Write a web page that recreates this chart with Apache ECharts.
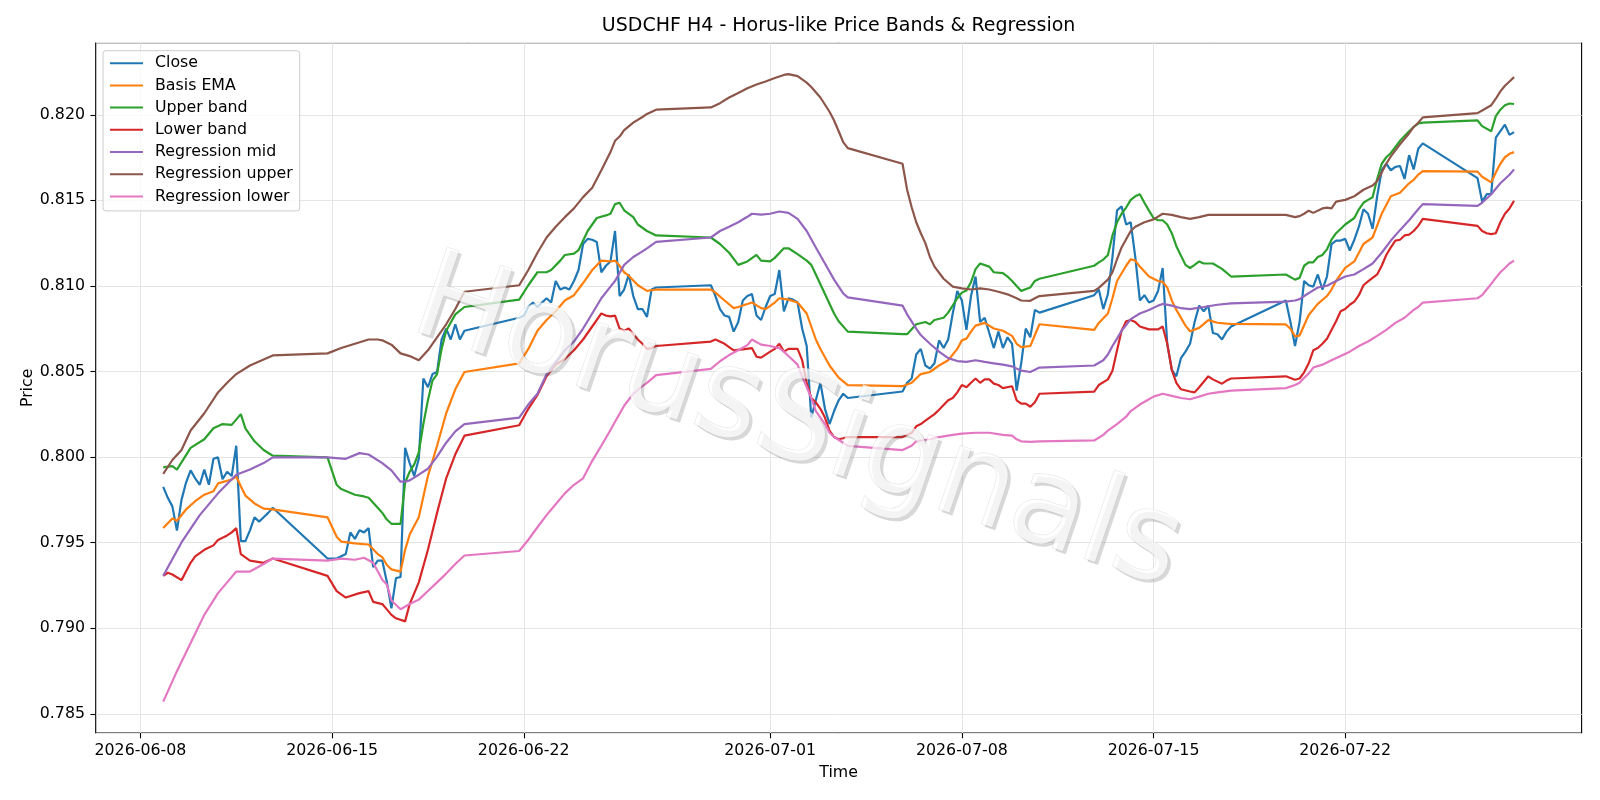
<!DOCTYPE html>
<html>
<head>
<meta charset="utf-8">
<script src="https://cdn.jsdelivr.net/npm/echarts@6/dist/echarts.min.js"></script>
<style>html,body{margin:0;padding:0;background:#fff}#c{width:1600px;height:800px}</style>
</head>
<body>
<div id="c"></div>
<script>
// Time is counted in hours from 2026-06-08 00:00 (UTC); bars are H4.
const chartTitle = 'USDCHF H4 - Horus-like Price Bands & Regression';
const xTickLabels = ['2026-06-08', '2026-06-15', '2026-06-22', '2026-07-01', '2026-07-08', '2026-07-15', '2026-07-22'];
const seriesNames = ['Close', 'Basis EMA', 'Upper band', 'Lower band', 'Regression mid', 'Regression upper', 'Regression lower'];

// Close, one value per H4 bar (weekend bars absent)
const closeVals = [
  0.79826,0.79762,0.79712,0.79570,0.79750,0.79851,0.79922,0.79876,0.79838,0.79927,0.79838,0.79990,0.79998,0.79871,0.79914,0.79889,0.80066,0.79509,0.79509,0.79572,0.79648,0.79623,0.79648,0.79674,0.79704,
  0.79407,0.79407,0.79407,0.79420,0.79433,0.79560,0.79522,0.79572,0.79560,0.79585,0.79357,0.79395,0.79395,0.79270,0.79116,0.79293,0.79299,0.80054,0.79965,0.79889,0.79990,0.80459,0.80408,0.80485,0.80497,0.80687,0.80751,0.80687,0.80776,0.80687,0.80738,
  0.80814,0.80827,0.80877,0.80903,0.80877,0.80903,0.80928,0.80903,0.81029,0.80979,0.80991,0.80979,0.81029,0.81093,0.81245,0.81275,0.81270,0.81257,0.81080,0.81118,0.81143,0.81321,0.80941,0.80979,0.81067,0.80941,0.80865,0.80865,0.80819,0.80979,0.80991,
  0.81004,0.80941,0.80865,0.80827,0.80819,0.80733,0.80789,0.80915,0.80941,0.80953,0.80827,0.80801,0.80877,0.80941,0.80953,0.81093,0.80852,0.80928,0.80920,0.80903,0.80751,0.80649,0.80231,0.80332,0.80434,0.80282,0.80193,0.80269,0.80332,0.80370,0.80345,
  0.80383,0.80434,0.80459,0.80599,0.80632,0.80535,0.80517,0.80548,0.80682,0.80637,0.80687,0.80839,0.80971,0.80915,0.80743,0.80941,0.81055,0.80789,0.80814,0.80725,0.80637,0.80733,0.80637,0.80700,0.80662,0.80388,0.80548,0.80751,0.80700,0.80860,0.80844,
  0.80946,0.80979,0.80865,0.80953,0.81169,0.81442,0.81465,0.81359,0.81372,0.81169,0.80915,0.80946,0.80903,0.80915,0.80971,0.81105,0.80662,0.80510,0.80472,0.80578,0.80616,0.80662,0.80789,0.80885,0.80852,0.80885,0.80725,0.80718,0.80687,0.80733,0.80763,
  0.80915,0.80789,0.80649,0.80789,0.81029,0.81004,0.80996,0.81067,0.80979,0.81055,0.81245,0.81265,0.81265,0.81275,0.81207,0.81270,0.81346,0.81448,0.81422,0.81334,0.81524,0.81676,0.81714,0.81676,0.81696,0.81701,0.81625,0.81764,0.81681,0.81802,0.81833,
  0.81630,0.81493,0.81536,0.81536,0.81866,0.81904,0.81942,0.81883,0.81899
];

// [hour, value]
const basisEma = [[20,0.79585],[28,0.79641],[32,0.79628],[40,0.79694],[48,0.79742],[56,0.7978],[64,0.798],[68,0.79846],[80,0.79869],[84,0.79886],[88,0.7983],[92,0.79775],[100,0.79729],[108,0.79699],[116,0.79694],[164,0.79648],[172,0.79534],[176,0.79506],[188,0.79496],[196,0.79491],[200,0.79489],[208,0.79433],[212,0.79415],[216,0.79369],[220,0.79344],[228,0.79331],[232,0.79458],[236,0.79547],[244,0.79648],[252,0.79889],[260,0.80066],[268,0.80256],[276,0.80396],[284,0.80497],[332,0.80548],[340,0.80632],[348,0.80738],[356,0.80801],[364,0.80852],[372,0.80915],[380,0.80946],[388,0.81017],[396,0.81093],[404,0.81148],[412,0.81143],[416,0.81148],[420,0.81118],[424,0.8108],[428,0.8106],[436,0.81004],[444,0.80971],[452,0.80979],[500,0.80979],[504,0.80961],[512,0.80915],[520,0.8087],[524,0.80877],[536,0.80903],[544,0.8087],[548,0.80865],[556,0.80903],[560,0.80928],[568,0.8092],[576,0.80903],[584,0.80839],[588,0.80763],[592,0.80687],[596,0.80632],[604,0.80535],[612,0.80464],[620,0.80421],[668,0.80414],[676,0.80434],[684,0.80485],[692,0.80497],[700,0.80535],[708,0.80566],[716,0.80632],[720,0.80682],[724,0.80692],[728,0.80733],[732,0.80768],[740,0.80784],[748,0.80751],[756,0.80738],[764,0.80708],[768,0.80662],[772,0.80642],[780,0.80649],[788,0.80776],[836,0.80743],[840,0.80784],[848,0.80839],[852,0.80928],[856,0.81029],[864,0.81118],[868,0.81156],[872,0.81148],[876,0.81113],[884,0.81055],[892,0.81029],[896,0.81024],[900,0.80991],[904,0.80915],[908,0.8086],[916,0.80768],[920,0.80735],[928,0.80755],[936,0.80800],[944,0.80785],[952,0.8078],[956,0.80778],[1004,0.80775],[1008,0.8075],[1012,0.80705],[1016,0.8071],[1020,0.80770],[1024,0.8083],[1032,0.80895],[1040,0.80941],[1044,0.80979],[1048,0.81029],[1056,0.81105],[1064,0.81143],[1072,0.81245],[1080,0.81283],[1088,0.81422],[1096,0.81524],[1104,0.81544],[1112,0.816],[1116,0.8162],[1120,0.8165],[1124,0.81671],[1172,0.81668],[1176,0.81638],[1184,0.81605],[1188,0.81663],[1192,0.81714],[1196,0.81752],[1200,0.81772],[1204,0.81782]];

const upperBand = [[20,0.7994],[28,0.79947],[32,0.79927],[44,0.80054],[56,0.80104],[64,0.80168],[72,0.80193],[80,0.80188],[88,0.80251],[92,0.80168],[100,0.80092],[108,0.80041],[116,0.80008],[164,0.79998],[172,0.79838],[176,0.79813],[188,0.7978],[196,0.7977],[200,0.79762],[208,0.79704],[212,0.79674],[216,0.79635],[220,0.7961],[228,0.7961],[232,0.79851],[236,0.79914],[240,0.79957],[244,0.80028],[248,0.80193],[252,0.80332],[256,0.80447],[260,0.80485],[264,0.80632],[268,0.80738],[276,0.80834],[284,0.80877],[332,0.8092],[340,0.81004],[348,0.8108],[356,0.8108],[360,0.81093],[368,0.81148],[372,0.81181],[380,0.81189],[384,0.81209],[392,0.81321],[400,0.81397],[408,0.81412],[412,0.81422],[416,0.81478],[420,0.81486],[424,0.81442],[432,0.81402],[436,0.81359],[444,0.81321],[452,0.81295],[500,0.81283],[508,0.81245],[516,0.81194],[524,0.81123],[532,0.81143],[540,0.81181],[544,0.81148],[552,0.81143],[556,0.81164],[564,0.8122],[568,0.8122],[576,0.81186],[584,0.81148],[588,0.81123],[592,0.81067],[600,0.80953],[608,0.80839],[612,0.80794],[620,0.80733],[668,0.80718],[672,0.80718],[680,0.80776],[688,0.80789],[692,0.80776],[696,0.80801],[704,0.80814],[708,0.80844],[716,0.80928],[720,0.80961],[724,0.80974],[728,0.81022],[732,0.81098],[736,0.81131],[744,0.81113],[748,0.8108],[756,0.81075],[760,0.81055],[764,0.81029],[772,0.80971],[780,0.80991],[784,0.81029],[788,0.81042],[836,0.81118],[840,0.81138],[844,0.81154],[848,0.81181],[852,0.81295],[856,0.81372],[860,0.81422],[864,0.81458],[868,0.81503],[872,0.81524],[876,0.81536],[880,0.81486],[884,0.8144],[888,0.81397],[892,0.81384],[896,0.81384],[900,0.81359],[904,0.81308],[908,0.81232],[916,0.81123],[920,0.81105],[924,0.81123],[928,0.81143],[932,0.81131],[940,0.81131],[948,0.811],[956,0.81055],[1004,0.81067],[1012,0.81037],[1016,0.81047],[1020,0.81118],[1024,0.81138],[1028,0.81138],[1032,0.81169],[1036,0.81181],[1040,0.81214],[1044,0.8127],[1048,0.81308],[1056,0.81359],[1064,0.81397],[1068,0.81448],[1072,0.81486],[1076,0.81503],[1080,0.81518],[1084,0.81625],[1088,0.81714],[1092,0.81752],[1096,0.81777],[1104,0.81848],[1112,0.81904],[1116,0.81929],[1120,0.81949],[1124,0.81954],[1172,0.81967],[1176,0.81934],[1184,0.81904],[1188,0.81992],[1192,0.8203],[1196,0.82056],[1200,0.82066],[1204,0.82063]];

const lowerBand = [[20,0.79306],[24,0.79324],[28,0.79314],[36,0.79281],[44,0.79382],[48,0.7942],[56,0.79458],[60,0.79471],[64,0.79484],[68,0.79516],[76,0.79542],[80,0.7956],[84,0.79585],[88,0.79433],[96,0.79395],[108,0.79382],[116,0.79407],[164,0.79306],[172,0.79217],[180,0.79179],[192,0.79205],[200,0.79217],[204,0.79154],[212,0.79141],[216,0.7911],[220,0.79078],[224,0.79058],[232,0.7904],[236,0.79141],[244,0.79268],[252,0.79458],[260,0.79674],[268,0.79876],[276,0.80016],[284,0.80125],[332,0.80186],[340,0.80282],[348,0.80363],[356,0.80472],[364,0.8054],[372,0.80573],[380,0.80624],[388,0.80687],[396,0.80763],[404,0.80839],[408,0.80827],[412,0.80822],[416,0.80827],[420,0.80751],[424,0.80738],[428,0.80751],[432,0.80718],[436,0.80687],[440,0.80662],[444,0.80632],[448,0.80637],[452,0.80649],[500,0.80675],[504,0.80687],[512,0.80662],[520,0.80624],[528,0.80629],[536,0.80637],[540,0.80586],[544,0.80581],[552,0.80616],[556,0.80632],[560,0.80662],[564,0.80616],[568,0.80632],[576,0.80632],[580,0.80566],[584,0.80434],[588,0.80345],[592,0.8032],[596,0.80282],[600,0.80231],[604,0.80155],[608,0.80117],[612,0.80104],[616,0.8011],[620,0.80117],[668,0.80117],[676,0.80142],[680,0.8018],[684,0.80193],[688,0.80213],[696,0.80251],[700,0.80277],[708,0.80332],[712,0.80345],[716,0.80378],[720,0.80421],[724,0.80408],[728,0.80434],[732,0.80459],[736,0.80434],[740,0.80454],[744,0.80454],[748,0.80429],[752,0.80421],[756,0.80403],[764,0.80414],[768,0.80332],[772,0.80312],[776,0.80312],[780,0.80294],[784,0.8032],[788,0.8037],[836,0.80383],[840,0.80421],[848,0.80454],[852,0.80505],[856,0.80624],[860,0.80738],[864,0.80794],[868,0.80801],[872,0.80789],[876,0.80763],[884,0.80746],[892,0.80746],[896,0.80763],[900,0.80662],[904,0.8051],[908,0.80434],[912,0.80396],[920,0.80383],[924,0.80378],[928,0.80408],[936,0.80472],[940,0.80454],[948,0.80429],[952,0.80447],[956,0.80459],[1004,0.80472],[1012,0.80452],[1016,0.80459],[1020,0.80495],[1024,0.80548],[1028,0.80624],[1032,0.80637],[1036,0.80662],[1040,0.80692],[1044,0.80743],[1048,0.80794],[1052,0.80852],[1056,0.80865],[1060,0.8089],[1064,0.80908],[1068,0.80946],[1072,0.81004],[1076,0.81027],[1080,0.81047],[1084,0.81067],[1088,0.81118],[1092,0.81181],[1096,0.81225],[1100,0.81265],[1104,0.8127],[1108,0.81295],[1112,0.813],[1116,0.81321],[1120,0.81351],[1124,0.81392],[1172,0.81351],[1176,0.81321],[1180,0.81308],[1184,0.81303],[1188,0.81308],[1192,0.81372],[1196,0.81422],[1200,0.81453],[1204,0.81498]];

const regMid = [[20,0.79306],[36,0.79501],[52,0.79661],[68,0.79788],[84,0.79897],[96,0.79927],[108,0.79965],[116,0.79998],[164,0.79998],[180,0.7999],[192,0.80023],[200,0.80015],[212,0.79965],[220,0.79922],[228,0.79856],[232,0.79856],[236,0.79864],[244,0.79897],[252,0.79932],[260,0.80003],[268,0.80084],[276,0.8015],[284,0.80193],[332,0.80231],[340,0.80307],[348,0.8037],[356,0.80484],[364,0.80553],[372,0.80624],[380,0.80675],[388,0.80751],[396,0.80839],[404,0.80928],[412,0.80996],[416,0.81029],[424,0.81123],[432,0.81169],[440,0.81202],[444,0.8122],[452,0.81257],[500,0.81283],[508,0.81321],[516,0.81346],[524,0.81372],[532,0.81404],[536,0.81422],[544,0.81417],[552,0.81422],[560,0.81435],[568,0.81427],[576,0.81392],[584,0.81321],[592,0.81225],[600,0.81131],[608,0.81037],[616,0.80956],[620,0.80933],[668,0.80885],[672,0.80834],[680,0.80751],[684,0.80713],[692,0.80662],[700,0.80616],[708,0.80578],[716,0.80561],[724,0.80556],[732,0.80566],[740,0.80556],[748,0.80548],[756,0.8054],[764,0.8053],[772,0.80505],[780,0.80497],[788,0.80523],[836,0.80535],[844,0.80566],[848,0.80599],[852,0.80649],[856,0.80692],[860,0.80738],[868,0.80806],[876,0.80839],[884,0.80859],[892,0.80885],[896,0.80895],[904,0.80885],[912,0.8087],[920,0.80865],[932,0.80877],[944,0.8089],[956,0.80898],[1004,0.80908],[1012,0.80915],[1016,0.80923],[1020,0.80941],[1024,0.80958],[1032,0.80991],[1040,0.81001],[1048,0.81029],[1056,0.81055],[1064,0.81067],[1072,0.81098],[1080,0.81131],[1088,0.81194],[1096,0.81265],[1104,0.81326],[1112,0.81384],[1120,0.81448],[1124,0.81478],[1172,0.81468],[1176,0.81486],[1184,0.81536],[1192,0.816],[1200,0.8165],[1204,0.81681]];

const regUpper = [[20,0.79902],[28,0.79983],[36,0.80041],[44,0.80155],[56,0.80256],[68,0.80378],[76,0.80434],[84,0.80485],[96,0.80535],[116,0.80594],[164,0.80606],[176,0.80637],[188,0.80662],[200,0.80687],[208,0.80687],[212,0.80682],[220,0.80657],[228,0.80606],[236,0.8059],[244,0.80566],[252,0.80624],[260,0.807],[268,0.80776],[276,0.80865],[284,0.80966],[332,0.81004],[340,0.81093],[348,0.81194],[356,0.81283],[364,0.81346],[372,0.81402],[380,0.81453],[388,0.81519],[396,0.81574],[404,0.81676],[412,0.81782],[416,0.81848],[420,0.81873],[424,0.81911],[432,0.81954],[440,0.81987],[444,0.82005],[452,0.8203],[500,0.82043],[508,0.82068],[516,0.82101],[524,0.82127],[532,0.82155],[540,0.82177],[548,0.82195],[556,0.82215],[564,0.82233],[568,0.82238],[576,0.82226],[584,0.82188],[588,0.82162],[596,0.82101],[604,0.82018],[608,0.81967],[612,0.81904],[616,0.8184],[620,0.81805],[668,0.81714],[672,0.81562],[676,0.8146],[680,0.81372],[684,0.81308],[688,0.8125],[692,0.81169],[696,0.81113],[704,0.81042],[712,0.80996],[720,0.80986],[728,0.80979],[736,0.80986],[744,0.80979],[752,0.80966],[760,0.80951],[768,0.80928],[772,0.80915],[780,0.80913],[784,0.80928],[788,0.80941],[836,0.80971],[840,0.80989],[848,0.81037],[852,0.8108],[856,0.81156],[860,0.81225],[868,0.81321],[872,0.81346],[880,0.81372],[888,0.81389],[896,0.81422],[904,0.81415],[912,0.81402],[920,0.81392],[928,0.81402],[936,0.81415],[956,0.81415],[1004,0.81415],[1012,0.81402],[1016,0.81408],[1020,0.81422],[1024,0.8144],[1028,0.81427],[1036,0.81453],[1040,0.81458],[1044,0.81453],[1048,0.81493],[1056,0.81503],[1064,0.81524],[1072,0.81562],[1080,0.81587],[1084,0.81612],[1088,0.81663],[1092,0.81714],[1096,0.81757],[1104,0.81828],[1112,0.81891],[1116,0.81929],[1120,0.81954],[1124,0.81985],[1172,0.8201],[1176,0.82025],[1184,0.82056],[1188,0.82094],[1192,0.82137],[1196,0.8217],[1200,0.82195],[1204,0.8222]];

const regLower = [[20,0.78571],[32,0.78749],[44,0.78913],[56,0.79078],[68,0.79205],[76,0.79268],[84,0.79331],[96,0.79331],[108,0.79375],[116,0.79407],[164,0.79395],[176,0.79407],[188,0.794],[196,0.79412],[204,0.79382],[212,0.79283],[216,0.79255],[220,0.79162],[228,0.79111],[236,0.79141],[244,0.79167],[252,0.79217],[260,0.79268],[268,0.79319],[276,0.79375],[284,0.79425],[332,0.79451],[340,0.79517],[348,0.7959],[356,0.79661],[364,0.79724],[372,0.79788],[380,0.79838],[388,0.79876],[396,0.79978],[404,0.80066],[412,0.80158],[416,0.80206],[424,0.803],[432,0.8037],[440,0.80414],[444,0.80434],[452,0.80479],[500,0.80515],[508,0.8056],[516,0.80596],[524,0.80624],[532,0.80654],[536,0.80687],[544,0.80657],[552,0.80649],[560,0.80637],[564,0.80616],[568,0.80591],[576,0.8054],[580,0.80472],[588,0.80345],[592,0.80269],[600,0.80193],[604,0.80142],[608,0.80117],[616,0.80084],[620,0.80066],[668,0.80041],[676,0.80066],[680,0.80092],[692,0.80104],[700,0.80117],[712,0.8013],[720,0.80137],[732,0.80142],[744,0.80142],[756,0.8013],[764,0.80125],[768,0.80104],[772,0.80092],[780,0.80089],[788,0.80092],[836,0.80097],[844,0.8013],[848,0.80155],[856,0.80193],[864,0.80236],[868,0.80269],[876,0.80307],[884,0.80338],[888,0.80353],[896,0.8037],[904,0.80358],[912,0.80345],[920,0.80338],[928,0.80353],[936,0.8037],[944,0.80378],[956,0.80388],[1004,0.80403],[1012,0.80421],[1016,0.80434],[1020,0.80463],[1024,0.80488],[1028,0.80523],[1036,0.8054],[1044,0.80566],[1052,0.80591],[1060,0.80616],[1068,0.80649],[1076,0.80675],[1084,0.80708],[1092,0.80743],[1100,0.80784],[1108,0.80814],[1116,0.8086],[1120,0.80877],[1124,0.80903],[1172,0.80928],[1176,0.80946],[1180,0.80979],[1184,0.81012],[1188,0.81047],[1192,0.8108],[1196,0.81105],[1200,0.81131],[1204,0.81148]];

const seriesColors = ['#1f77b4', '#ff7f0e', '#2ca02c', '#d62728', '#9467bd', '#8c564b', '#e377c2'];
const FONT = 'DejaVu Sans';
const BASE_MS = Date.parse('2026-06-08T00:00:00Z');

// H4 trading schedule: no bars from Saturday 00:00 to Sunday 16:00
function tradingHours(startH, endH) {
  const out = [];
  for (let h = startH; h <= endH; h += 4) {
    const dow = Math.floor(h / 24) % 7; // 0 = Monday
    const hod = h % 24;
    if (dow === 5 || (dow === 6 && hod < 20)) continue;
    out.push(h);
  }
  return out;
}
const barHours = tradingHours(20, 1204);
const closeData = closeVals.map((v, i) => [barHours[i], v]);

const allData = [closeData, basisEma, upperBand, lowerBand, regMid, regUpper, regLower];

// matplotlib-like 5% margins
let xLo = Infinity, xHi = -Infinity, yLo = Infinity, yHi = -Infinity;
allData.forEach(d => d.forEach(p => {
  if (p[0] < xLo) xLo = p[0]; if (p[0] > xHi) xHi = p[0];
  if (p[1] < yLo) yLo = p[1]; if (p[1] > yHi) yHi = p[1];
}));
const xPad = (xHi - xLo) * 0.05, yPad = (yHi - yLo) * 0.05;
const xMin = xLo - xPad, xMax = xHi + xPad, yMin = yLo - yPad, yMax = yHi + yPad;

const xTickHours = xTickLabels.map(s => (Date.parse(s + 'T00:00:00Z') - BASE_MS) / 3600000);
function xLabel(v) {
  const i = xTickHours.findIndex(h => Math.abs(h - v) < 1e-6);
  return i >= 0 ? xTickLabels[i] : '';
}

const chart = echarts.init(document.getElementById('c'), null, {renderer: 'canvas', width: 1600, height: 800, devicePixelRatio: 1});

const FS = 15.8;
const axisText = {color: '#000', fontSize: FS, fontFamily: FONT};
const gridLine = {show: true, lineStyle: {color: '#e5e5e5', width: 1}};

const option = {
  animation: false,
  backgroundColor: '#ffffff',
  textStyle: {fontFamily: FONT},
  color: seriesColors,
  grid: {left: 95.7, right: 18.4, top: 42.7, bottom: 67, show: true, borderColor: '#000', borderWidth: 1.1,
         backgroundColor: 'transparent', containLabel: false, outerBoundsMode: 'none'},
  legend: {
    orient: 'vertical', left: 103, top: 50.7,
    icon: 'rect', itemWidth: 33, itemHeight: 2, itemGap: 6.2,
    padding: [4.5, 7, 6.5, 7],
    backgroundColor: 'rgba(255,255,255,0.8)', borderColor: '#cccccc', borderWidth: 1, borderRadius: 3,
    textStyle: {color: '#000', fontSize: FS, fontFamily: FONT, lineHeight: 16, padding: [0, 0, 0, 7]},
    data: seriesNames
  },
  xAxis: {
    type: 'value', min: xMin, max: xMax,
    axisLine: {show: false, onZero: false},
    axisTick: {show: true, inside: false, length: 5.3, lineStyle: {color: '#000', width: 1.1}, customValues: xTickHours},
    axisLabel: Object.assign({margin: 10, customValues: xTickHours, formatter: xLabel}, axisText),
    splitLine: gridLine,
    name: 'Time', nameLocation: 'middle', nameGap: 31.5, nameTextStyle: axisText
  },
  yAxis: {
    type: 'value', min: yMin, max: yMax, minInterval: 0.005, maxInterval: 0.005,
    axisLine: {show: false, onZero: false},
    axisTick: {show: true, inside: false, length: 5.3, lineStyle: {color: '#000', width: 1.1}},
    axisLabel: Object.assign({margin: 10.7, showMinLabel: false, showMaxLabel: false, formatter: v => v.toFixed(3)}, axisText),
    splitLine: gridLine,
    name: 'Price', nameLocation: 'middle', nameGap: 60, nameRotate: 90, nameMoveOverlap: false, nameTextStyle: axisText
  },
  series: allData.map((d, i) => ({
    name: seriesNames[i], type: 'line', data: d, showSymbol: false, symbol: 'none',
    lineStyle: {width: 2.2, color: seriesColors[i]}, itemStyle: {color: seriesColors[i]},
    emphasis: {disabled: true}, z: 2 + i * 0.01
  })),
  graphic: [
    {type: 'text', x: 838.6, y: 26.5, z: 50,
     style: {text: chartTitle, font: '19px "DejaVu Sans"', fill: '#000', align: 'center', verticalAlign: 'middle',
             textAlign: 'center', textVerticalAlign: 'middle'}},
    {type: 'text', x: 800, y: 430, rotation: -18.8 * Math.PI / 180, z: 60, silent: true,
     style: {text: 'HorusSignals', font: '123px "DejaVu Sans"', fill: 'rgba(77,77,77,0.22)', align: 'center', verticalAlign: 'middle',
             textAlign: 'center', textVerticalAlign: 'middle'}},
    {type: 'text', x: 797, y: 427, rotation: -18.8 * Math.PI / 180, z: 61, silent: true,
     style: {text: 'HorusSignals', font: '123px "DejaVu Sans"', fill: 'rgba(255,255,255,0.72)', stroke: 'rgba(160,160,160,0.32)', lineWidth: 0.8,
             align: 'center', verticalAlign: 'middle', textAlign: 'center', textVerticalAlign: 'middle'}}
  ]
};
chart.setOption(option);
</script>
</body>
</html>
